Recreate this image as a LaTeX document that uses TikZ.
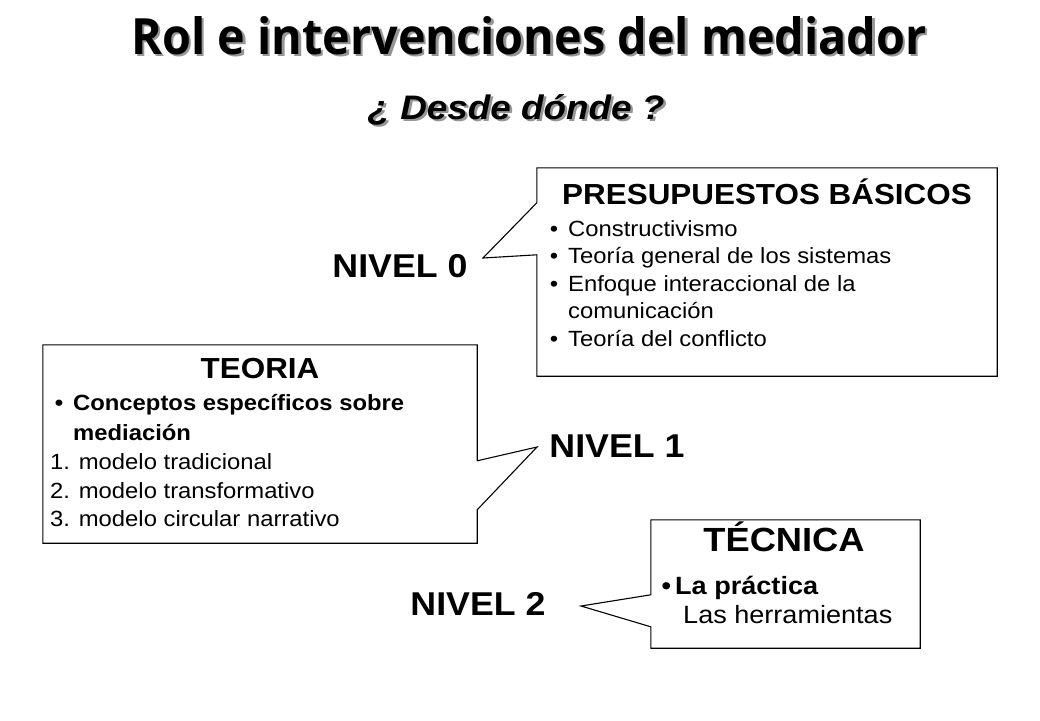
\documentclass[tikz,border=0pt]{standalone}
\usepackage{fontspec}
\setmainfont{Liberation Sans}[FakeStretch=1.083]
\newfontfamily\titlefont{Open Sans}[FakeStretch=0.935]
\usetikzlibrary{calc}
\definecolor{shade}{RGB}{150,150,150}
\tikzset{
  frame/.style={draw=none, inner sep=0pt},
  outline/.style={draw=black, line width=1.1pt, line join=miter},
  head/.style={font=\bfseries\fontsize{29}{33}\selectfont, anchor=base, inner sep=0pt},
  item/.style={font=\fontsize{22}{26}\selectfont, anchor=base west, inner sep=0pt},
  bitem/.style={font=\bfseries\fontsize{22}{26}\selectfont, anchor=base west, inner sep=0pt},
  level/.style={font=\bfseries\fontsize{33}{38}\selectfont, anchor=base, inner sep=0pt},
  ttl/.style={font=\titlefont\bfseries\fontsize{50}{56}\selectfont, anchor=base, inner sep=0pt},
  subttl/.style={font=\bfseries\itshape\fontsize{34}{38}\selectfont, anchor=base, inner sep=0pt},
}
\newcommand{\bul}{\llap{\textbullet\hspace{10pt}}}
\begin{document}
\begin{tikzpicture}[x=1pt,y=-1pt]
\useasboundingbox (0,0) rectangle (1040,720);
% title with shadow
\node[ttl, text=shade] (tshadow) at (531.5,56.5) {Rol e intervenciones del mediador};
\node[ttl] (title) at (529,54) {Rol e intervenciones del mediador};
\node[subttl, text=shade] (sshadow) at (518.5,121.5) {¿ Desde dónde ?};
\node[subttl] (subtitle) at (516,119) {¿ Desde dónde ?};

% box frames
\node[frame, minimum width=460pt, minimum height=208pt] (b1) at (767,272) {};
\node[frame, minimum width=434pt, minimum height=198pt] (b2) at (260,444) {};
\node[frame, minimum width=269pt, minimum height=128pt] (b3) at (785.5,584) {};
\coordinate (p0) at (483,258);
\coordinate (p1) at (537,447);
\coordinate (p2) at (581,606);

\draw[outline] (b1.north west) -- (b1.north east) -- (b1.south east) -- (b1.south west)
  -- ($(b1.north west)+(0,87)$) -- (p0) -- ($(b1.north west)+(0,35)$) -- cycle;
\draw[outline] (b2.north west) -- (b2.north east) -- ($(b2.north east)+(0,116)$) -- (p1)
  -- ($(b2.north east)+(0,165)$) -- (b2.south east) -- (b2.south west) -- cycle;
\draw[outline] (b3.north west) -- (b3.north east) -- (b3.south east) -- (b3.south west)
  -- ($(b3.north west)+(0,107)$) -- (p2) -- ($(b3.north west)+(0,75)$) -- cycle;

% box 1
\node[head] (h1) at (767,204) {PRESUPUESTOS BÁSICOS};
\node[item] (i11) at (568,236) {\bul Constructivismo};
\node[item] (i12) at (568,263.5) {\bul Teoría general de los sistemas};
\node[item] (i13) at (568,291) {\bul Enfoque interaccional de la};
\node[item] (i14) at (568,318.5) {comunicación};
\node[item] (i15) at (568,346) {\bul Teoría del conflicto};

% box 2
\node[head] (h2) at (260,378) {TEORIA};
\node[bitem] (i21) at (73,410) {\bul Conceptos específicos sobre};
\node[bitem] (i22) at (73,440) {mediación};
\node[item] (i23) at (50,469) {1. modelo tradicional};
\node[item] (i24) at (50,498) {2. modelo transformativo};
\node[item] (i25) at (50,526) {3. modelo circular narrativo};

% box 3
\node[head, font=\bfseries\fontsize{33.5}{38}\selectfont] (h3) at (784,551) {TÉCNICA};
\node[bitem, font=\bfseries\fontsize{25}{29}\selectfont] (i31) at (675,594) {\llap{\textbullet\hspace{4pt}}La práctica};
\node[item, font=\fontsize{25}{29}\selectfont] (i32) at (683,623) {Las herramientas};

% levels
\node[level] (n0) at (400,277) {NIVEL 0};
\node[level] (n1) at (617,457) {NIVEL 1};
\node[level] (n2) at (478,615) {NIVEL 2};
\end{tikzpicture}
\end{document}
